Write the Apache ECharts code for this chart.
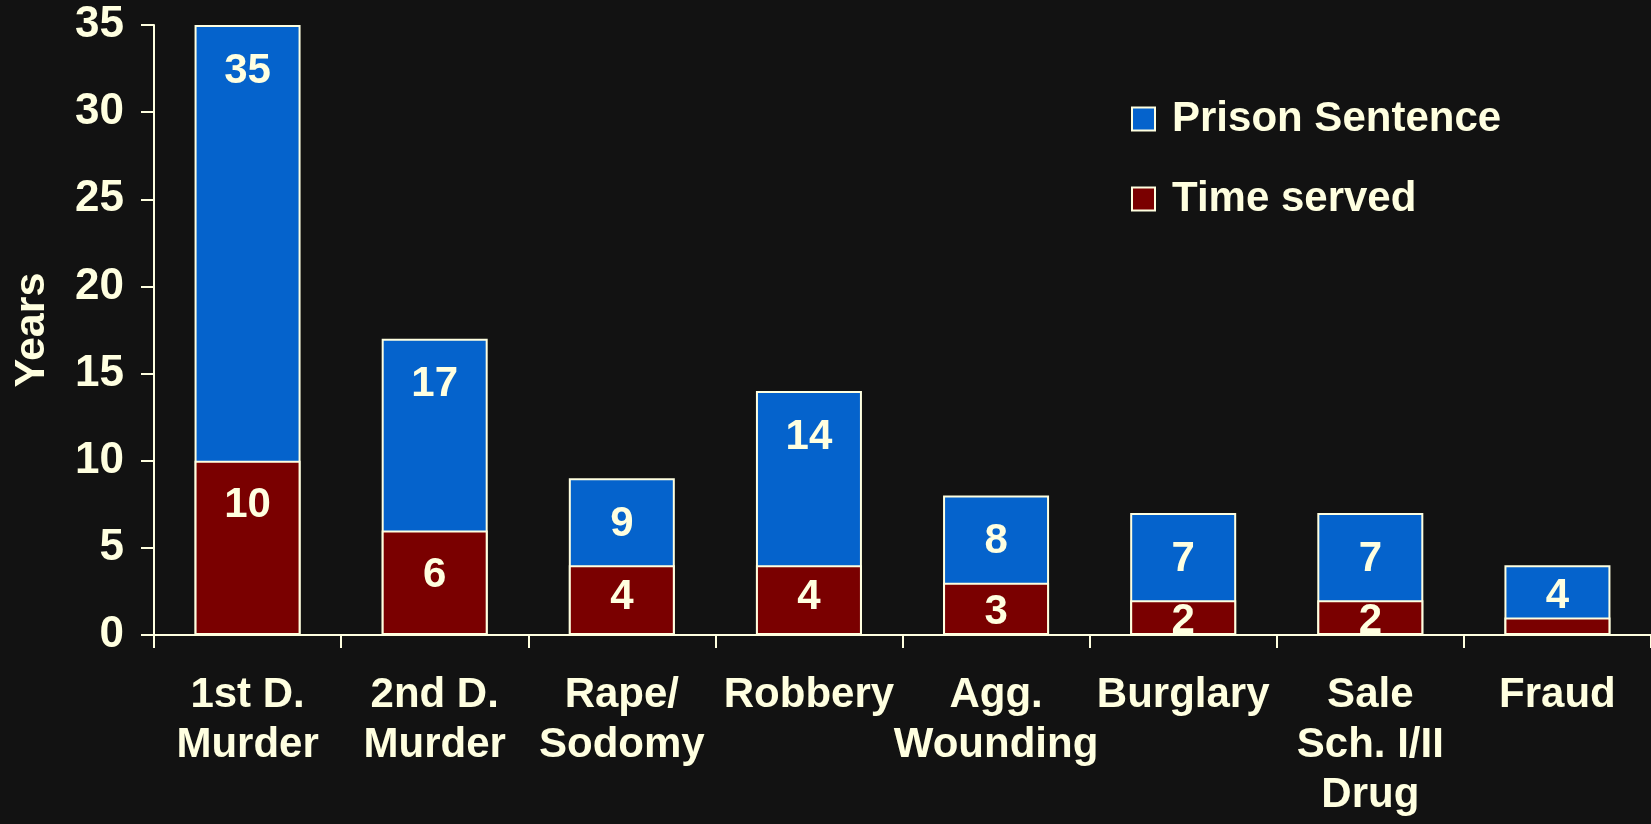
<!DOCTYPE html>
<html>
<head>
<meta charset="utf-8">
<script src="https://cdn.jsdelivr.net/npm/echarts@6/dist/echarts.min.js"></script>
<style>
  html, body { margin: 0; padding: 0; background: #121212; }
  #chart { width: 1651px; height: 824px; }
</style>
</head>
<body>
<div id="chart"></div>
<script>
var categories = ["1st D.\nMurder", "2nd D.\nMurder", "Rape/\nSodomy", "Robbery", "Agg.\nWounding", "Burglary", "Sale\nSch. I/II\nDrug", "Fraud"];
var prisonSentence = [35, 17, 9, 14, 8, 7, 7, 4];
var timeServed = [10, 6, 4, 4, 3, 2, 2, 1];
var yTicks = [0, 5, 10, 15, 20, 25, 30, 35];

var cream = "#FFFFE0";
var font = "Liberation Sans, Arial, sans-serif";

var chart = echarts.init(document.getElementById("chart"));

var labelBase = {
  show: true,
  color: cream,
  fontFamily: font,
  fontWeight: "bold",
  fontSize: 42
};

// blue labels sit near the top; when the visible blue part is short, centre them in it
var sentenceData = prisonSentence.map(function (v, i) {
  var visible = v - timeServed[i];
  if (visible >= 5) {
    return { value: v, label: { position: "insideTop", distance: 25 } };
  }
  var fromTop = (visible / 2) / v * 100;
  return {
    value: v,
    label: { position: ["50%", fromTop + "%"], align: "center", verticalAlign: "middle", offset: [0, 5] }
  };
});

var servedData = timeServed.map(function (v) {
  if (v >= 5) return { value: v, label: { position: "insideTop", distance: 24 } };
  if (v >= 2) return { value: v, label: { position: "inside", offset: [0, v >= 4 ? -3 : 4] } };
  return { value: v, label: { show: false } };
});

var option = {
  backgroundColor: "#121212",
  animation: false,
  grid: { left: 154, right: 0, top: 25, bottom: 189 },
  legend: {
    orient: "vertical",
    left: 1126,
    top: 93,
    icon: "rect",
    itemWidth: 23,
    itemHeight: 23,
    itemGap: 38,
    textStyle: {
      color: cream,
      fontFamily: font,
      fontWeight: "bold",
      fontSize: 42,
      lineHeight: 42,
      padding: [0, 0, 0, 12]
    },
    data: ["Prison Sentence", "Time served"]
  },
  xAxis: {
    type: "category",
    data: categories,
    axisLine: { lineStyle: { color: cream, width: 2 } },
    axisTick: { show: true, length: 13, lineStyle: { color: cream, width: 2 } },
    axisLabel: {
      color: cream,
      fontFamily: font,
      fontWeight: "bold",
      fontSize: 42,
      lineHeight: 50,
      margin: 35,
      interval: 0
    }
  },
  yAxis: {
    type: "value",
    min: 0,
    max: 35,
    interval: 5,
    name: "Years",
    nameLocation: "middle",
    nameGap: 100,
    nameTextStyle: { color: cream, fontFamily: font, fontWeight: "bold", fontSize: 43 },
    splitLine: { show: false },
    axisLine: { show: true, lineStyle: { color: cream, width: 2 } },
    axisTick: { show: true, length: 13, lineStyle: { color: cream, width: 2 } },
    axisLabel: {
      color: cream,
      fontFamily: font,
      fontWeight: "bold",
      fontSize: 44,
      margin: 30,
      formatter: function (v) { return yTicks.indexOf(v) >= 0 ? String(v) : ""; }
    }
  },
  series: [
    {
      name: "Prison Sentence",
      type: "bar",
      barWidth: 106,
      itemStyle: { color: "#0563CC", borderColor: cream, borderWidth: 2 },
      label: labelBase,
      data: sentenceData
    },
    {
      name: "Time served",
      type: "bar",
      barWidth: 106,
      barGap: "-100%",
      itemStyle: { color: "#7A0000", borderColor: cream, borderWidth: 2 },
      label: labelBase,
      data: servedData
    }
  ]
};

chart.setOption(option);
</script>
</body>
</html>
